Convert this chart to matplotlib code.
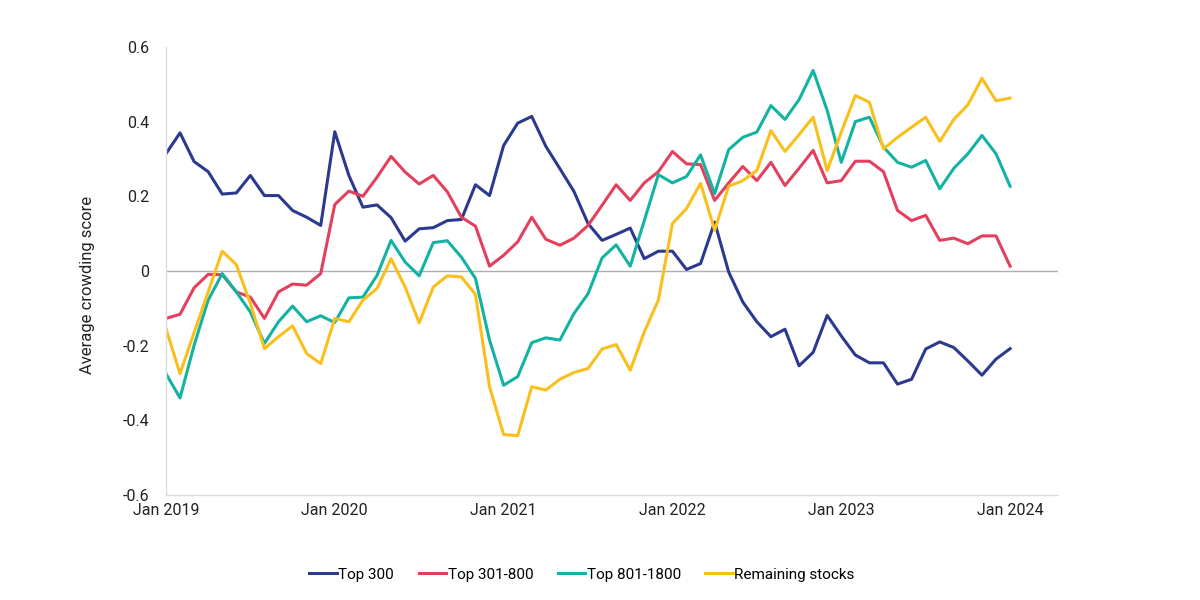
import numpy as np
import matplotlib.pyplot as plt

plt.rcParams['font.family'] = ['Roboto', 'DejaVu Sans']

# Monthly values, Jan 2019 .. Jan 2024
months = np.arange(61)
tick_months = [0, 12, 24, 36, 48, 60]
tick_labels = ['Jan 2019', 'Jan 2020', 'Jan 2021', 'Jan 2022', 'Jan 2023', 'Jan 2024']

top300 = [0.314, 0.37, 0.293, 0.266, 0.206, 0.209, 0.256, 0.202, 0.202, 0.162,
          0.144, 0.122, 0.373, 0.256, 0.171, 0.177, 0.143, 0.080, 0.113, 0.116,
          0.135, 0.138, 0.231, 0.202, 0.336, 0.396, 0.414, 0.334, 0.274, 0.213,
          0.127, 0.082, 0.098, 0.115, 0.033, 0.053, 0.053, 0.004, 0.020, 0.131,
          -0.003, -0.083, -0.136, -0.176, -0.156, -0.254, -0.218, -0.119, -0.174, -0.225,
          -0.246, -0.246, -0.303, -0.290, -0.209, -0.190, -0.205, -0.241, -0.279, -0.236,
          -0.208]

top301_800 = [-0.127, -0.116, -0.045, -0.009, -0.010, -0.056, -0.070, -0.127, -0.056, -0.035,
              -0.038, -0.007, 0.178, 0.214, 0.200, 0.251, 0.307, 0.265, 0.233, 0.256,
              0.212, 0.144, 0.120, 0.013, 0.042, 0.078, 0.144, 0.085, 0.069, 0.088,
              0.122, 0.176, 0.231, 0.189, 0.236, 0.266, 0.320, 0.287, 0.285, 0.189,
              0.236, 0.280, 0.242, 0.291, 0.229, 0.275, 0.323, 0.236, 0.242, 0.294,
              0.294, 0.266, 0.162, 0.135, 0.149, 0.082, 0.088, 0.073, 0.094, 0.094,
              0.013]

top801_1800 = [-0.275, -0.340, -0.199, -0.078, -0.007, -0.056, -0.110, -0.194, -0.136, -0.094,
               -0.136, -0.120, -0.138, -0.072, -0.070, -0.012, 0.082, 0.024, -0.013, 0.076,
               0.081, 0.037, -0.020, -0.185, -0.306, -0.283, -0.192, -0.179, -0.185, -0.114,
               -0.061, 0.035, 0.070, 0.013, 0.135, 0.258, 0.236, 0.253, 0.311, 0.207,
               0.325, 0.358, 0.372, 0.443, 0.406, 0.459, 0.537, 0.430, 0.291, 0.400,
               0.412, 0.332, 0.291, 0.278, 0.296, 0.220, 0.275, 0.314, 0.363, 0.314,
               0.227]

remaining = [-0.154, -0.275, -0.165, -0.056, 0.053, 0.017, -0.087, -0.208, -0.176, -0.147,
             -0.221, -0.248, -0.127, -0.136, -0.078, -0.047, 0.033, -0.043, -0.139, -0.043,
             -0.013, -0.016, -0.063, -0.310, -0.438, -0.441, -0.310, -0.319, -0.290, -0.272,
             -0.261, -0.209, -0.197, -0.266, -0.163, -0.078, 0.127, 0.167, 0.235, 0.109,
             0.227, 0.242, 0.269, 0.376, 0.320, 0.365, 0.412, 0.269, 0.372, 0.470,
             0.452, 0.327, 0.358, 0.385, 0.412, 0.347, 0.406, 0.445, 0.516, 0.456,
             0.463]

fig = plt.figure(figsize=(12, 6), dpi=100)
ax = fig.add_axes([0.1383, 0.175, 0.7433, 0.7467])

ax.axhline(0, color='#b0b0b0', linewidth=1, zorder=1)
ax.plot(months, top300, color='#2b3a8f', linewidth=2.2, label='Top 300')
ax.plot(months, top301_800, color='#e3405e', linewidth=2.2, label='Top 301-800')
ax.plot(months, top801_1800, color='#13b3a4', linewidth=2.2, label='Top 801-1800')
ax.plot(months, remaining, color='#fbbf1c', linewidth=2.2, label='Remaining stocks')

ax.set_xlim(0, 63.4)
ax.set_ylim(-0.6, 0.6)
ax.set_xticks(tick_months)
ax.set_xticklabels(tick_labels)
yt = [-0.6, -0.4, -0.2, 0, 0.2, 0.4, 0.6]
ax.set_yticks(yt)
ax.set_yticklabels(['0' if v == 0 else f'{v:.1f}' for v in yt])
ax.tick_params(axis='both', length=0, labelsize=11.5, colors='#222222')
ax.tick_params(axis='y', pad=12)
ax.tick_params(axis='x', pad=6)

for s in ['top', 'right']:
    ax.spines[s].set_visible(False)
for s in ['left', 'bottom']:
    ax.spines[s].set_color('#dddddd')
    ax.spines[s].set_linewidth(1)

ax.set_ylabel('Average crowding score', fontsize=12, color='#222222')
ax.yaxis.set_label_coords(-0.08, 0.469)

fig.legend(loc='center', bbox_to_anchor=(0.485, 0.042), ncol=4, frameon=False,
           fontsize=11, handlelength=1.8, handletextpad=0.1, columnspacing=1.6)

fig.savefig('out.png', dpi=100)
